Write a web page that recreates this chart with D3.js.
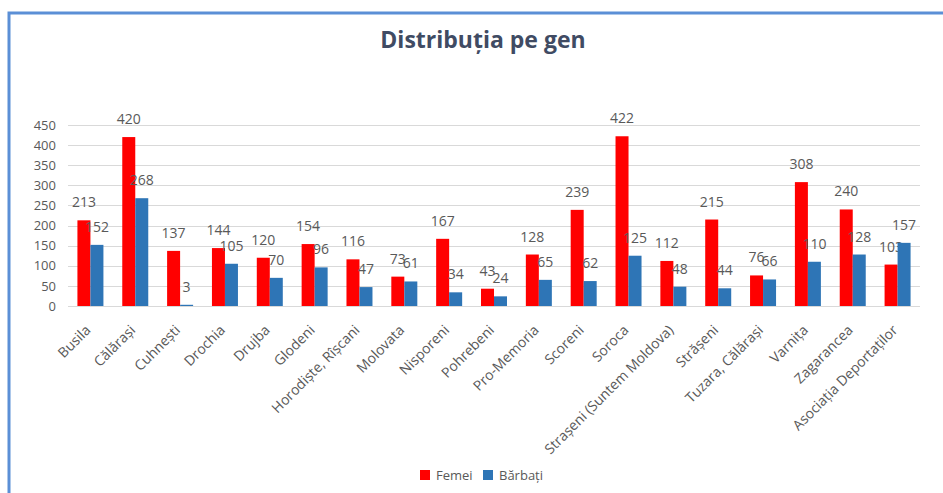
<!DOCTYPE html>
<html>
<head>
<meta charset="utf-8">
<script src="https://cdn.jsdelivr.net/npm/d3@7"></script>
<style>
  body { margin: 0; background: #fff; }
  svg { display: block; font-family: "Open Sans", sans-serif; }
</style>
</head>
<body>
<script>
let categories = ["Busila", "Călărași", "Cuhnești", "Drochia", "Drujba", "Glodeni",
    "Horodiște, Rîșcani", "Molovata", "Nisporeni", "Pohrebeni", "Pro-Memoria", "Scoreni",
    "Soroca", "Strașeni (Suntem Moldova)", "Strășeni", "Tuzara, Călărași", "Varnița",
    "Zagarancea", "Asociația Deportaților"];
let femei = [213, 420, 137, 144, 120, 154, 116, 73, 167, 43, 128, 239, 422, 112, 215, 76, 308, 240, 103];
let barbati = [152, 268, 3, 105, 70, 96, 47, 61, 34, 24, 65, 62, 125, 48, 44, 66, 110, 128, 157];
let seriesNames = ["Femei", "Bărbați"];
let yTicks = [0, 50, 100, 150, 200, 250, 300, 350, 400, 450];

let width = 943, height = 493;
let margin = {top: 125, right: 23, bottom: 187, left: 68};
let colors = ["#ff0000", "#2e75b6"];

let svg = d3.select("body").append("svg")
    .attr("width", width)
    .attr("height", height);

// frame
svg.append("path")
    .attr("d", `M9,${height} V13 H${width}`)
    .attr("fill", "none")
    .attr("stroke", "#5b8fd6")
    .attr("stroke-width", 3);

svg.append("text")
    .attr("x", 483)
    .attr("y", 48)
    .attr("text-anchor", "middle")
    .attr("fill", "#404b63")
    .style("font-size", "23px")
    .style("font-weight", "bold")
    .text("Distribuția pe gen");

let x = d3.scaleBand(categories, [margin.left, width - margin.right]);
let y = d3.scaleLinear([0, 450], [height - margin.bottom, margin.top]);

// grid
svg.append("g")
    .attr("stroke", "#d9d9d9")
    .selectAll("line")
    .data(yTicks)
    .join("line")
    .attr("x1", margin.left)
    .attr("x2", width - margin.right)
    .attr("y1", d => Math.round(y(d)) + 0.5)
    .attr("y2", d => Math.round(y(d)) + 0.5);

// y axis
let yAxis = svg.append("g")
    .attr("transform", `translate(${margin.left - 12},0)`)
    .call(d3.axisLeft(y).tickValues(yTicks).tickSize(0).tickPadding(0));
yAxis.select(".domain").remove();
yAxis.selectAll("text")
    .attr("fill", "#595959")
    .style("font-size", "13px")
    .style("font-family", "Open Sans, sans-serif");

// bars
let barW = 13;
let series = [femei, barbati];
series.forEach((vals, s) => {
    let g = svg.append("g");
    g.selectAll("rect")
        .data(vals)
        .join("rect")
        .attr("x", (d, i) => x(categories[i]) + x.bandwidth() / 2 - barW + s * barW)
        .attr("width", barW)
        .attr("y", d => y(d))
        .attr("height", d => y(0) - y(d))
        .attr("fill", colors[s]);
    g.selectAll("text")
        .data(vals)
        .join("text")
        .attr("x", (d, i) => x(categories[i]) + x.bandwidth() / 2 - barW / 2 + s * barW)
        .attr("y", d => y(d) - 13)
        .attr("text-anchor", "middle")
        .attr("fill", "#595959")
        .style("font-size", "14px")
        .text(d => d);
});

// x axis labels
let xAxis = svg.append("g")
    .attr("transform", `translate(0,${height - margin.bottom})`)
    .call(d3.axisBottom(x).tickSize(0).tickPadding(0));
xAxis.select(".domain").remove();
xAxis.selectAll("text")
    .attr("fill", "#595959")
    .style("font-size", "14px")
    .style("font-family", "Open Sans, sans-serif")
    .attr("text-anchor", "end")
    .attr("dy", null)
    .attr("y", 0)
    .attr("transform", "translate(1,25) rotate(-45)");

// legend
let legend = svg.append("g").attr("transform", "translate(420,470)");
let lx = [0, 63];
seriesNames.forEach((name, i) => {
    legend.append("rect")
        .attr("x", lx[i]).attr("y", 0)
        .attr("width", 10).attr("height", 10)
        .attr("fill", colors[i]);
    legend.append("text")
        .attr("x", lx[i] + 16).attr("y", 10)
        .attr("fill", "#595959")
        .style("font-size", "13px")
        .text(name);
});
</script>
</body>
</html>
